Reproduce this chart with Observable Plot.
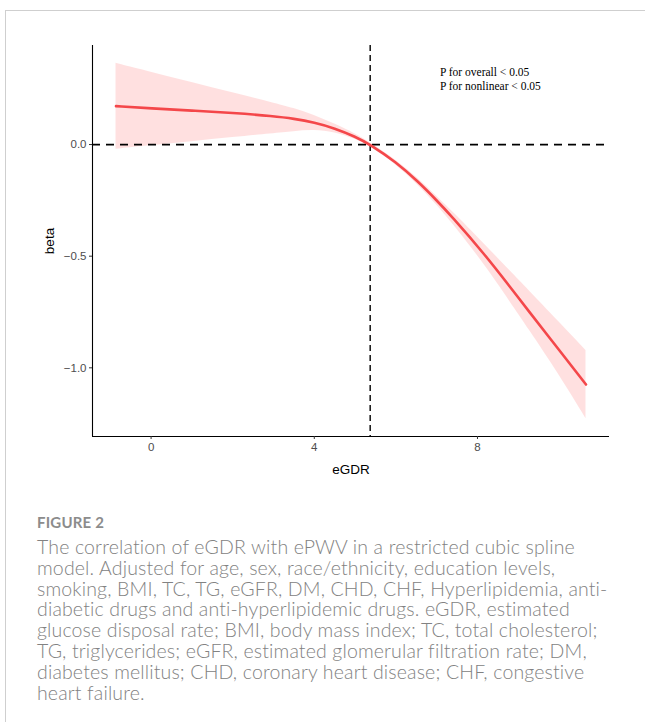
<!DOCTYPE html>
<html>
<head>
<meta charset="utf-8">
<script src="https://cdn.jsdelivr.net/npm/d3@7"></script>
<script src="https://cdn.jsdelivr.net/npm/@observablehq/plot@0.6"></script>
<style>
  html, body { margin: 0; padding: 0; background: #fff; }
  #page { position: relative; width: 645px; height: 722px; overflow: hidden; }
  #card { position: absolute; left: 5px; top: 10px; right: -2px; bottom: -2px;
          border-left: 1px solid #cfcfcf; border-top: 1px solid #cfcfcf; }
  #chart { position: absolute; left: 0; top: 0; }
  #figlabel { position: absolute; left: 37px; top: 513px; font-family: Lato, "Open Sans", sans-serif;
              font-size: 15px; font-weight: 700; color: #8c8c8c; letter-spacing: 0.2px; }
  #caption { position: absolute; left: 37px; top: 537px; font-family: Lato, "Open Sans", sans-serif;
             font-size: 19.5px; font-weight: 300; line-height: 20.8px; color: #828282; white-space: nowrap;
             letter-spacing: 0.15px; }
</style>
</head>
<body>
<div id="page">
  <div id="card"></div>
  <div id="chart"></div>
  <div id="figlabel">FIGURE 2</div>
  <div id="caption"></div>
</div>
<script>
// eGDR grid points
const egdr  = [-0.86, 0, 1, 2, 3, 3.5, 4, 4.5, 5, 5.37, 6, 6.54, 7, 7.35, 8.17, 8.82, 9.23, 10, 10.66];
// fitted beta
const beta  = [0.172, 0.162, 0.152, 0.142, 0.127, 0.116, 0.099, 0.073, 0.036, 0.0, -0.078, -0.165, -0.25, -0.318, -0.49, -0.643, -0.74, -0.92, -1.075];
// 95% CI
const upper = [0.364, 0.324, 0.278, 0.232, 0.186, 0.162, 0.132, 0.092, 0.05, 0.008, -0.068, -0.15, -0.232, -0.293, -0.445, -0.57, -0.647, -0.795, -0.922];
const lower = [-0.021, -0.005, 0.013, 0.031, 0.049, 0.058, 0.066, 0.055, 0.025, -0.008, -0.088, -0.18, -0.27, -0.345, -0.535, -0.71, -0.82, -1.03, -1.228];

const refX = 5.37;          // vertical reference line (eGDR)
const refY = 0;             // horizontal reference line (beta)
const xTicks = [0, 4, 8];
const yTicks = [0, -0.5, -1.0];
const annotation = ["P for overall < 0.05", "P for nonlinear < 0.05"];
const annotX = 7.08;
const annotY = 0.294;

const captionLines = [
  "The correlation of eGDR with ePWV in a restricted cubic spline",
  "model. Adjusted for age, sex, race/ethnicity, education levels,",
  "smoking, BMI, TC, TG, eGFR, DM, CHD, CHF, Hyperlipidemia, anti-",
  "diabetic drugs and anti-hyperlipidemic drugs. eGDR, estimated",
  "glucose disposal rate; BMI, body mass index; TC, total cholesterol;",
  "TG, triglycerides; eGFR, estimated glomerular filtration rate; DM,",
  "diabetes mellitus; CHD, coronary heart disease; CHF, congestive",
  "heart failure."
];

const data = egdr.map((x, i) => ({x, y: beta[i], lo: lower[i], hi: upper[i]}));

// ggplot-style 5% expansion
function expand([a, b]) { const d = (b - a) * 0.05; return [a - d, b + d]; }
const xDomain = expand(d3.extent(egdr));
const yDomain = expand([d3.min(lower), d3.max(upper)]);

const minus = s => s.replace("-", "\u2212");

const chart = Plot.plot({
  width: 645,
  height: 480,
  marginLeft: 92,
  marginRight: 36,
  marginTop: 45,
  marginBottom: 44,
  style: { fontFamily: "'Liberation Sans', Arial, sans-serif", fontSize: "11px", background: "transparent", overflow: "visible" },
  x: { domain: xDomain },
  y: { domain: yDomain },
  marks: [
    Plot.areaY(data, { x: "x", y1: "lo", y2: "hi", fill: "#ff0000", fillOpacity: 0.12, curve: "basis" }),
    Plot.ruleY([refY], { stroke: "black", strokeWidth: 1.7, strokeDasharray: "8,6" }),
    Plot.ruleX([refX], { stroke: "black", strokeWidth: 1.4, strokeDasharray: "6,4" }),
    Plot.lineY(data, { x: "x", y: "y", stroke: "#f4474a", strokeWidth: 2.6, curve: "basis" }),
    Plot.ruleX([xDomain[0]], { stroke: "black", strokeWidth: 1.1 }),
    Plot.ruleY([yDomain[0]], { stroke: "black", strokeWidth: 1.1 }),
    Plot.axisX({ ticks: xTicks, tickFormat: d => String(d), tickSize: 3, tickPadding: 3, stroke: "#333", color: "#4d4d4d",
                 fontSize: 11.5, label: null }),
    Plot.axisX({ ticks: [], label: "eGDR", labelAnchor: "center", labelArrow: "none", labelOffset: 37,
                 fontSize: 13.5, color: "black" }),
    Plot.axisY({ ticks: yTicks, tickFormat: d => minus(d3.format(".1f")(d)), tickSize: 3, tickPadding: 3, stroke: "#333", color: "#4d4d4d",
                 fontSize: 11.5, label: null }),
    Plot.axisY({ ticks: [], label: "beta", labelAnchor: "center", labelArrow: "none", labelOffset: 48,
                 fontSize: 13.5, color: "black" }),
    Plot.text([annotation.join("\n")], { x: annotX, y: annotY, textAnchor: "start", lineAnchor: "middle",
                 fontFamily: "'Liberation Serif', 'Times New Roman', serif", fontSize: 11.5, fill: "black", lineHeight: 1.2 })
  ]
});
document.getElementById("chart").appendChild(chart);

const cap = document.getElementById("caption");
captionLines.forEach((line, i) => {
  if (i) cap.appendChild(document.createElement("br"));
  cap.appendChild(document.createTextNode(line));
});
</script>
</body>
</html>
